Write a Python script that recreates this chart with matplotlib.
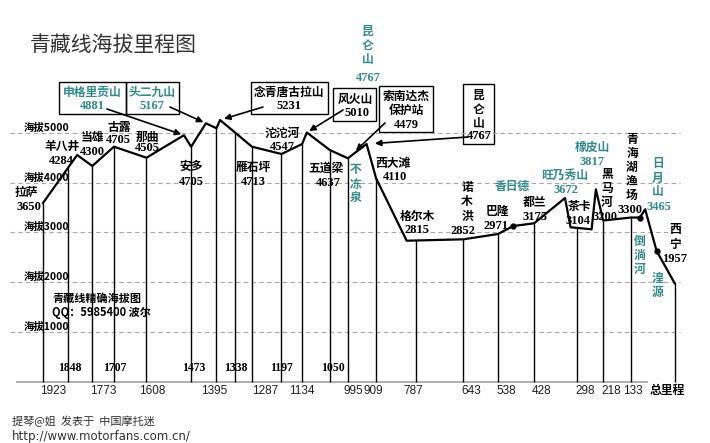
import numpy as np
import matplotlib
matplotlib.use('Agg')
import matplotlib.pyplot as plt
from matplotlib.transforms import Affine2D
from matplotlib.patches import Rectangle

plt.rcParams['font.family'] = ['Noto Sans CJK SC', 'DejaVu Sans']

# ---------------- data ----------------
# remaining distance to Xining (km) and elevation (m) of the drawn profile
profile_km = [1923, 1819, 1773, 1707, 1608, 1494, 1472, 1427, 1395, 1384, 1287,
              1197, 1134, 1120, 1050, 995, 938, 909, 816, 643, 538, 491, 428,
              334, 317, 253, 240, 218, 133, 106, 90, 55, 0]
profile_elev = [3588, 4553, 4332, 4720, 4498, 4950, 4720, 5190, 5090, 5256, 4720,
                4573, 4774, 5005, 4653, 4487, 4774, 4084, 2830, 2858, 2965, 3126, 3180,
                3688, 3100, 3059, 3863, 3236, 3296, 3296, 3461, 2623, 1974]
station_km = [1923, 1848, 1773, 1707, 1608, 1473, 1395, 1338, 1287, 1197, 1134,
              1050, 995, 909, 787, 643, 538, 428, 298, 218, 133, 0]
km_upper = [1848, 1707, 1473, 1338, 1197, 1050]
km_lower = [1923, 1773, 1608, 1395, 1287, 1134, 995, 909, 787, 643, 538, 428,
            298, 218, 133]
grid_levels = [5000, 4000, 3000, 2000, 1000]
dot_km = [491, 106, 55]
peak_km = [1494, 1427, 1384, 1120, 995, 938]   # arrow targets

TEAL = '#2e8c8c'
W, H = 710, 443

fig = plt.figure(figsize=(W / 100, H / 100), dpi=100)
fig.patch.set_facecolor('white')
ax = fig.add_axes([0, 0, 1, 1])

def X(px):
    return 1923 - (px - 43) / 0.3285

def Y(py):
    return (381.5 - py) / 0.04975

ax.set_xlim(X(0), X(W))
ax.set_ylim(Y(H), Y(0))
ax.axis('off')
pix = Affine2D().scale(1 / W, -1 / H).translate(0, 1) + fig.transFigure

km_r = np.array(profile_km[::-1], float)
el_r = np.array(profile_elev[::-1], float)
def elev_at(k):
    return np.interp(k, km_r, el_r)

# grid + baseline
ax.hlines(grid_levels, X(10), X(680), colors='#a8a8a8', linestyles=(0, (4, 3)), lw=0.8)
ax.hlines(0, X(16), X(648), colors='#a8a8a8', lw=1.3)

# vertical station lines
ax.vlines(station_km, 0, elev_at(station_km), colors='black', lw=1.0)
# profile
ax.plot(profile_km, profile_elev, color='black', lw=1.6)
ax.plot(dot_km, elev_at(dot_km), 'o', color='black', ms=3.5)

# y level labels
for lv in grid_levels:
    yp = 381.5 - lv * 0.04975
    ax.text(69, yp - 5, f'海拔{lv}', transform=pix, ha='right', va='center',
            fontsize=7.5, fontweight='bold')

# mileage labels
up_off = [2, 1, 3, 1, 0, 3]
for k, o in zip(km_upper, up_off):
    xp = 43 + (1923 - k) * 0.3285 + o
    ax.text(xp, 368, str(k), transform=pix, ha='center', va='center',
            fontsize=8.5, fontweight='bold', family='Liberation Serif')
lo_off = [10, 11, 6, -2, 13, 0, 5, -3, -3, 8, 8, 7, 8, 8, 2]
for k, o in zip(km_lower, lo_off):
    xp = 43 + (1923 - k) * 0.3285 + o
    ax.text(xp, 391, str(k), transform=pix, ha='center', va='center',
            fontsize=8.5, family='Liberation Sans', color='#222222')
ax.text(650, 391, '总里程', transform=pix, ha='left', va='center',
        fontsize=8.5, fontweight='bold')

# title
ax.text(30, 45, '青藏线海拔里程图', transform=pix, ha='left', va='center',
        fontsize=15, color='#333333')

# station labels: (text, x, y, colour, kind)
labels = [
    ('拉萨', 26, 193, 'k', 'c'), ('3650', 29, 207, 'k', 'n'),
    ('羊八井', 62, 146, 'k', 'c'), ('4284', 61, 161, 'k', 'n'),
    ('当雄', 92, 137, 'k', 'c'), ('4300', 92, 152, 'k', 'n'),
    ('古露', 119, 128, 'k', 'c'), ('4705', 118, 140, 'k', 'n'),
    ('那曲', 147, 137, 'k', 'c'), ('4505', 147, 148, 'k', 'n'),
    ('安多', 191, 166, 'k', 'c'), ('4705', 191, 182, 'k', 'n'),
    ('雁石坪', 253, 167, 'k', 'c'), ('4713', 253, 182, 'k', 'n'),
    ('沱沱河', 282, 133, 'k', 'c'), ('4547', 282, 147, 'k', 'n'),
    ('五道梁', 326, 168, 'k', 'c'), ('4637', 328, 183, 'k', 'n'),
    ('不\n冻\n泉', 356, 184, TEAL, 'v'),
    ('西大滩', 393, 163, 'k', 'c'), ('4110', 395, 177, 'k', 'n'),
    ('格尔木', 417, 216, 'k', 'c'), ('2815', 417, 230, 'k', 'n'),
    ('诺\n木\n洪', 467, 202, 'k', 'v'), ('2852', 463, 231, 'k', 'n'),
    ('巴隆', 497, 212, 'k', 'c'), ('2971', 496, 226, 'k', 'n'),
    ('香日德', 512, 186, TEAL, 'c'),
    ('都兰', 535, 202, 'k', 'c'), ('3175', 535, 217, 'k', 'n'),
    ('旺乃秀山', 565, 175, TEAL, 'c'), ('3672', 566, 190, TEAL, 'n'),
    ('橡皮山', 592, 147, TEAL, 'c'), ('3817', 592, 162, TEAL, 'n'),
    ('茶卡', 579, 207, 'k', 'c'), ('3104', 578, 221, 'k', 'n'),
    ('黑\n马\n河', 607, 188, 'k', 'v'), ('3200', 605, 217, 'k', 'n'),
    ('青\n海\n湖\n渔\n场', 632, 167, 'k', 'v'), ('3300', 630, 210, 'k', 'n'),
    ('日\n月\n山', 658, 178, TEAL, 'v'), ('3465', 659, 207, TEAL, 'n'),
    ('倒\n淌\n河', 640, 255, TEAL, 'v'),
    ('湟\n源', 658, 285, TEAL, 'v'),
    ('西\n宁', 675, 237, 'k', 'v'), ('1957', 675, 259, 'k', 'n'),
    ('昆\n仑\n山', 368, 45, TEAL, 'v'), ('4767', 368, 78, TEAL, 'n'),
    # boxed labels
    ('申格里贡山', 92, 92, TEAL, 'c'), ('4881', 92, 106, TEAL, 'n'),
    ('头二九山', 152, 92, TEAL, 'c'), ('5167', 152, 106, TEAL, 'n'),
    ('念青唐古拉山', 289, 92, 'k', 'c'), ('5231', 289, 106, 'k', 'n'),
    ('风火山', 355, 99, 'k', 'c'), ('5010', 357, 113, 'k', 'n'),
    ('索南达杰', 406, 96, 'k', 'c'), ('保护站', 406, 110, 'k', 'c'),
    ('4479', 406, 125, 'k', 'n'),
    ('昆\n仑\n山', 479, 109, 'k', 'v'), ('4767', 479, 136, 'k', 'n'),
]
for txt, xp, yp, col, kind in labels:
    if kind == 'n':
        ax.text(xp, yp, txt, transform=pix, ha='center', va='center', color=col,
                fontsize=9, fontweight='bold', family='Liberation Serif')
    elif kind == 'v':
        ax.text(xp, yp, txt, transform=pix, ha='center', va='center', color=col,
                fontsize=8.5, fontweight='bold', linespacing=1.1)
    else:
        ax.text(xp, yp, txt, transform=pix, ha='center', va='center', color=col,
                fontsize=8.5, fontweight='bold')

# boxes
boxes = [(59.3, 81.7, 125.7, 114.3), (125.7, 81.7, 179.3, 114.3),
         (250.7, 81.7, 328.3, 114.3), (333, 88, 376, 120.7),
         (379.3, 86, 433.3, 132.3), (463.3, 84.3, 494.3, 144.3)]
for x0, y0, x1, y1 in boxes:
    ax.add_patch(Rectangle((x0, y0), x1 - x0, y1 - y0, transform=pix, fill=False,
                           ec='black', lw=1.0, clip_on=False))

# arrows
starts = [(107, 109), (170, 107), (263, 107), (343, 110), (385, 123), (468, 137)]
shr = [2, 2, 3, 2, 8, 6]
for (xs, ys), k, s in zip(starts, peak_km, shr):
    ax.annotate('', xy=(k, elev_at(k)), xycoords='data', xytext=(xs, ys),
                textcoords=pix,
                arrowprops=dict(arrowstyle='-|>', color='black', lw=1.2,
                                mutation_scale=9, shrinkA=0, shrinkB=s))

# watermark / credits
ax.text(52, 298, '青藏线精确海拔图', transform=pix, ha='left', va='center',
        fontsize=8, fontweight='bold')
ax.text(52, 313, 'QQ：5985400 波尔', transform=pix, ha='left', va='center',
        fontsize=8, fontweight='bold')
ax.text(12, 421, '提琴@姐  发表于  中国摩托迷', transform=pix, ha='left', va='center',
        fontsize=8, color='#333333')
ax.text(12, 437, 'http://www.motorfans.com.cn/', transform=pix, ha='left',
        va='center', fontsize=8.5, color='#333333', family='DejaVu Sans')

fig.savefig('out.png', dpi=100)
